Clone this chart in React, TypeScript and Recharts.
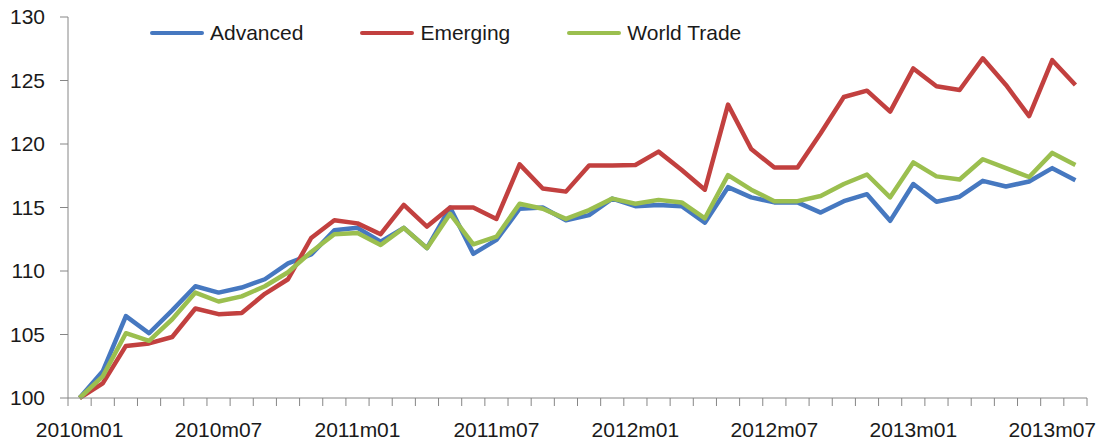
import { LineChart, Line, XAxis, YAxis, Legend } from "recharts";

// monthly index, 2010m01 = 100
const months = [
  "2010m01", "2010m02", "2010m03", "2010m04", "2010m05", "2010m06",
  "2010m07", "2010m08", "2010m09", "2010m10", "2010m11", "2010m12",
  "2011m01", "2011m02", "2011m03", "2011m04", "2011m05", "2011m06",
  "2011m07", "2011m08", "2011m09", "2011m10", "2011m11", "2011m12",
  "2012m01", "2012m02", "2012m03", "2012m04", "2012m05", "2012m06",
  "2012m07", "2012m08", "2012m09", "2012m10", "2012m11", "2012m12",
  "2013m01", "2013m02", "2013m03", "2013m04", "2013m05", "2013m06",
  "2013m07", "2013m08",
];

const advanced = [
  100, 102.1, 106.45, 105.1, 106.9, 108.8, 108.3, 108.7, 109.35, 110.6, 111.3, 113.2,
  113.4, 112.3, 113.4, 111.8, 115.0, 111.35, 112.45, 114.9, 115.0, 114.0, 114.4, 115.7,
  115.1, 115.2, 115.1, 113.8, 116.6, 115.8, 115.4, 115.4, 114.6, 115.5, 116.05, 113.95,
  116.85, 115.45, 115.85, 117.1, 116.65, 117.05, 118.1, 117.15,
];

const emerging = [
  100, 101.15, 104.1, 104.3, 104.8, 107.05, 106.6, 106.7, 108.2, 109.35, 112.6, 114.0,
  113.75, 112.9, 115.2, 113.5, 115.0, 115.0, 114.1, 118.4, 116.5, 116.25, 118.3, 118.3,
  118.35, 119.4, 117.95, 116.4, 123.1, 119.6, 118.15, 118.15, 120.85, 123.7, 124.2, 122.55,
  125.95, 124.55, 124.25, 126.75, 124.65, 122.2, 126.6, 124.65,
];

const worldTrade = [
  100, 101.7, 105.1, 104.5, 106.2, 108.3, 107.6, 108.0, 108.8, 109.9, 111.5, 112.9,
  113.0, 112.05, 113.4, 111.8, 114.5, 112.1, 112.7, 115.3, 114.9, 114.1, 114.8, 115.7,
  115.3, 115.6, 115.4, 114.15, 117.55, 116.4, 115.5, 115.5, 115.9, 116.85, 117.6, 115.8,
  118.55, 117.45, 117.2, 118.8, 118.1, 117.4, 119.3, 118.35,
];

const tickLabels = [
  "2010m01", "2010m07", "2011m01", "2011m07",
  "2012m01", "2012m07", "2013m01", "2013m07",
];

const yTicks = [100, 105, 110, 115, 120, 125, 130];

const data = months.map((m, i) => ({
  i,
  month: m,
  advanced: advanced[i],
  emerging: emerging[i],
  world: worldTrade[i],
}));

const axisColor = "#868686";
const font = "'Liberation Sans', Arial, sans-serif";

// labels sit on the months, tick marks sit between months (Excel style)
const labelTicks = tickLabels.map((l) => months.indexOf(l));
const boundaryTicks = [...months.map((_, i) => i - 0.5), months.length - 0.5];
const xTicks = [...boundaryTicks, ...labelTicks].sort((a, b) => a - b);

const XTick = (props: any) => {
  const { x, y, payload } = props;
  const v = payload.value;
  if (Number.isInteger(v)) {
    return (
      <text x={x} y={y + 24} dy="0.71em" textAnchor="middle" fontSize={21} fill="#1a1a1a" fontFamily={font}>
        {months[v]}
      </text>
    );
  }
  return <line x1={x} x2={x} y1={y} y2={y + 8} stroke={axisColor} strokeWidth={1} />;
};

const renderLegend = (props: any) => {
  const { payload } = props;
  return (
    <div style={{ display: "flex", alignItems: "center", fontFamily: font, fontSize: 21, color: "#1a1a1a" }}>
      {payload.map((entry: any) => (
        <div key={entry.value} style={{ display: "flex", alignItems: "center", marginRight: 57 }}>
          <div style={{ width: 54, height: 4, background: entry.color, borderRadius: 2, marginRight: 6 }} />
          <span style={{ lineHeight: "24px", whiteSpace: "nowrap" }}>{entry.value}</span>
        </div>
      ))}
    </div>
  );
};

export default function App() {
  return (
    <div style={{ position: "absolute", left: 0, top: 0, width: 1103, height: 446, background: "#fff", fontFamily: font }}>
      <LineChart width={1103} height={446} data={data} margin={{ top: 17, right: 16, left: 0, bottom: 0 }}>
        <XAxis
          dataKey="i"
          type="number"
          domain={[-0.5, months.length - 0.5]}
          ticks={xTicks}
          interval={0}
          tick={<XTick />}
          tickLine={false}
          tickSize={0}
          tickMargin={0}
          height={48}
          axisLine={{ stroke: axisColor }}
        />
        <YAxis
          type="number"
          domain={[100, 130]}
          ticks={yTicks}
          interval={0}
          width={68}
          tickSize={8}
          tickMargin={15}
          tick={{ fontSize: 21, fill: "#1a1a1a", fontFamily: font }}
          tickLine={{ stroke: axisColor }}
          axisLine={{ stroke: axisColor }}
        />
        <Legend
          layout="vertical"
          align="center"
          verticalAlign="middle"
          content={renderLegend}
          wrapperStyle={{ top: 21, left: 150, width: "auto" }}
        />
        <Line type="linear" dataKey="advanced" name="Advanced" stroke="#4678C0" strokeWidth={4.5} dot={false} strokeLinejoin="round" isAnimationActive={false} />
        <Line type="linear" dataKey="emerging" name="Emerging" stroke="#C2403F" strokeWidth={4.5} dot={false} strokeLinejoin="round" isAnimationActive={false} />
        <Line type="linear" dataKey="world" name="World Trade" stroke="#9BBF4F" strokeWidth={4.5} dot={false} strokeLinejoin="round" isAnimationActive={false} />
      </LineChart>
    </div>
  );
}
